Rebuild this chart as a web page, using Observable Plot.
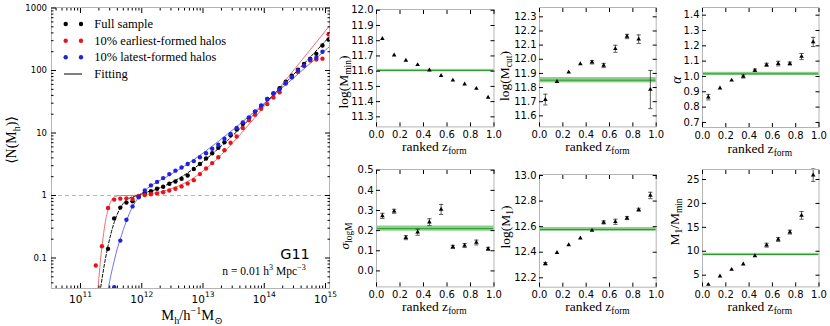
<!DOCTYPE html>
<html>
<head>
<meta charset="utf-8">
<script src="https://cdn.jsdelivr.net/npm/d3@7"></script>
<script src="https://cdn.jsdelivr.net/npm/@observablehq/plot@0.6"></script>
<style>
  html, body { margin: 0; padding: 0; background: #fff; }
  #root { position: relative; width: 830px; height: 326px; overflow: hidden; background: #fff; }
  #root svg { position: absolute; overflow: visible; }
</style>
</head>
<body>
<div id="root"></div>
<script>
// ---------------- DATA ----------------
// Left panel: halo mass bins, log10(M_h / h^-1 Msun)
const logMassBins = [11.25, 11.35, 11.45, 11.55, 11.65, 11.75, 11.85, 11.95, 12.05, 12.15,
  12.25, 12.35, 12.45, 12.55, 12.65, 12.75, 12.85, 12.95, 13.05, 13.15,
  13.25, 13.35, 13.45, 13.55, 13.65, 13.75, 13.85, 13.95, 14.05, 14.15,
  14.25, 14.35, 14.45, 14.55, 14.65, 14.75, 14.85, 14.95, 15.05];
// <N(M_h)> per bin
const nFull = [null, null, 0.14, 0.43, 0.64, 0.77, 0.81, 0.96, 1.09, 1.17,
  1.28, 1.38, 1.54, 1.68, 1.85, 2.09, 2.65, 3.2, 3.9, 4.75,
  5.8, 7.1, 9.2, 11.4, 14, 17.3, 22, 27, 35, 43,
  52, 66, 83, 103, 128, 154, 185, 251, 313];
const nEarly = [0.076, 0.154, 0.63, 0.86, 0.89, 0.90, 0.88, 0.98, 1.02, 1.05,
  1.08, 1.13, 1.20, 1.28, 1.40, 1.55, 1.76, 2.2, 2.7, 3.3,
  4.1, 5.3, 7.0, 8.8, 12.0, 16.0, 19.6, 24.4, 29, 37,
  45, 64, 78, 95, 118, 145, 150, 155, 380];
const nLate = [null, null, null, 0.034, 0.19, 0.41, 0.67, 0.94, 1.2, 1.45,
  1.65, 1.9, 2.2, 2.5, 2.8, 3.2, 3.55, 4.1, 4.75, 5.6,
  6.5, 8.1, 9.7, 12.1, 14.8, 17.8, 22, 27.5, 35, 43,
  50, 62, 78, 100, 120, 150, 160, 200, null];
// Fitted curves
const fitFullLogM = [11.33, 11.40, 11.45, 11.50, 11.55, 11.60, 11.65, 11.70, 11.80, 11.90, 12.00,
  12.20, 12.40, 12.60, 12.80, 13.00, 13.20, 13.40, 13.60, 13.80, 14.00, 14.20, 14.40, 14.60, 14.80, 15.00, 15.07];
const fitFullN = [0.034, 0.089, 0.156, 0.25, 0.37, 0.50, 0.63, 0.75, 0.91, 0.98, 1.07,
  1.22, 1.47, 1.86, 2.49, 3.49, 5.1, 7.6, 11.7, 18.4, 28.9, 45.6, 72, 115, 184, 297, 350];
const fitEarlyLogM = [11.28, 11.30, 11.33, 11.36, 11.40, 11.43, 11.46, 11.50, 11.55, 11.60, 11.70, 11.80, 12.00,
  12.20, 12.40, 12.60, 12.80, 13.00, 13.20, 13.40, 13.60, 13.80, 14.00, 14.20, 14.40, 14.60, 14.80, 15.00, 15.07];
const fitEarlyN = [0.027, 0.047, 0.10, 0.18, 0.35, 0.50, 0.65, 0.82, 0.94, 0.986, 1.0, 1.0, 1.03,
  1.09, 1.21, 1.42, 1.79, 2.45, 3.62, 5.67, 9.3, 15.6, 26.8, 46.3, 81, 141, 247, 433, 528];
const fitLateLogM = [11.45, 11.50, 11.55, 11.60, 11.65, 11.70, 11.75, 11.80, 11.85, 11.90, 12.00, 12.10, 12.20,
  12.40, 12.60, 12.80, 13.00, 13.20, 13.40, 13.60, 13.80, 14.00, 14.20, 14.40, 14.60, 14.80, 15.00, 15.07];
const fitLateN = [0.031, 0.055, 0.089, 0.14, 0.20, 0.285, 0.39, 0.52, 0.66, 0.80, 1.08, 1.32, 1.54,
  1.98, 2.58, 3.47, 4.78, 6.72, 9.6, 13.9, 20.3, 29.9, 44, 65, 97, 143, 213, 244];
const legendLabels = ["Full sample", "10% earliest-formed halos", "10% latest-formed halos", "Fitting"];
const mainXTicks = [1e11, 1e12, 1e13, 1e14, 1e15];
const mainYTicks = [0.1, 1, 10, 100, 1000];

// Right panels: ranked z_form bins
const zformBins = [0.05, 0.15, 0.25, 0.35, 0.45, 0.55, 0.65, 0.75, 0.85, 0.95];
const zformTicks = [0, 0.2, 0.4, 0.6, 0.8, 1.0];
const logMminVals = [11.814, 11.705, 11.670, 11.642, 11.607, 11.570, 11.540, 11.515, 11.486, 11.427];
const logMminErr  = [0.004, 0.003, 0.003, 0.003, 0.003, 0.003, 0.003, 0.003, 0.003, 0.004];
const logMminFit = 11.604, logMminFitErr = 0.008;
const logMminTicks = [11.3, 11.4, 11.5, 11.6, 11.7, 11.8, 11.9, 12.0];

const logMcutVals = [11.715, 11.842, 11.908, 11.967, 11.979, 11.956, 12.074, 12.161, 12.142, 11.786];
const logMcutErr  = [0.038, 0.005, 0.006, 0.008, 0.012, 0.015, 0.025, 0.015, 0.030, 0.135];
const logMcutFit = 11.852, logMcutFitErr = 0.019;
const logMcutTicks = [11.6, 11.7, 11.8, 11.9, 12.0, 12.1, 12.2, 12.3];

const alphaVals = [0.865, 0.924, 0.975, 1.000, 1.040, 1.076, 1.084, 1.084, 1.130, 1.225];
const alphaErr  = [0.018, 0.006, 0.006, 0.010, 0.008, 0.010, 0.015, 0.010, 0.020, 0.030];
const alphaFit = 1.017, alphaFitErr = 0.010;
const alphaTicks = [0.7, 0.8, 0.9, 1.0, 1.1, 1.2, 1.3, 1.4];

const sigmaVals = [0.273, 0.296, 0.165, 0.192, 0.242, 0.305, 0.119, 0.126, 0.141, 0.109];
const sigmaErr  = [0.013, 0.010, 0.010, 0.015, 0.017, 0.025, 0.008, 0.010, 0.012, 0.008];
const sigmaFit = 0.210, sigmaFitErr = 0.013;
const sigmaTicks = [0.0, 0.1, 0.2, 0.3, 0.4, 0.5];

const logM1Vals = [12.310, 12.396, 12.458, 12.510, 12.570, 12.633, 12.638, 12.667, 12.732, 12.844];
const logM1Err  = [0.010, 0.006, 0.006, 0.006, 0.006, 0.012, 0.020, 0.012, 0.012, 0.025];
const logM1Fit = 12.578, logM1FitErr = 0.015;
const logM1Ticks = [12.2, 12.4, 12.6, 12.8, 13.0];

const ratioVals = [3.05, 4.8, 6.18, 7.3, 9.04, 11.27, 12.46, 14.0, 17.5, 25.9];
const ratioErr  = [0.15, 0.15, 0.15, 0.2, 0.2, 0.4, 0.4, 0.4, 0.8, 1.3];
const ratioFit = 9.32, ratioFitErr = 0.25;
const ratioTicks = [5, 10, 15, 20, 25];

// ---------------- RENDERING ----------------
const root = document.getElementById("root");
const SANS = "DejaVu Sans, sans-serif";
const SERIF = "Liberation Serif, DejaVu Serif, serif";
const FRAME = "#b4b4b4";
const RED = "#e8141c", BLUE = "#2222dd";
const baseStyle = {fontFamily: SANS, fontSize: "10px", background: "transparent", color: "#000", overflow: "visible"};

function mount(svg, left, top) {
  svg.style.position = "absolute";
  svg.style.left = left + "px";
  svg.style.top = top + "px";
  svg.style.maxWidth = "none";
  root.appendChild(svg);
}

// ---- main panel ----
const mFrame = {left: 51, right: 329, top: 7, bottom: 288};
const mW = 340, mH = 326;
const xDom = [Math.pow(10, 10.527), Math.pow(10, 15.065)];
const yDom = [0.0325, 1020];
const xMinor = [], yMinor = [];
for (let e = 10; e <= 15; e++) for (let m = 2; m <= 9; m++) { const v = m * Math.pow(10, e); if (v > xDom[0] && v < xDom[1]) xMinor.push(v); }
for (let e = -2; e <= 3; e++) for (let m = 2; m <= 9; m++) { const v = m * Math.pow(10, e); if (v > yDom[0] && v < yDom[1]) yMinor.push(v); }

const pts = [];
[["full", nFull], ["early", nEarly], ["late", nLate]].forEach(([s, arr]) =>
  arr.forEach((n, i) => { if (n != null) pts.push({s, m: Math.pow(10, logMassBins[i]), n}); }));
const fitRows = (lm, nn) => lm.map((v, i) => ({m: Math.pow(10, v), n: nn[i]}));
const ptColor = {full: "#000", early: RED, late: BLUE};

const mainSvg = Plot.plot({
  width: mW, height: mH,
  marginLeft: mFrame.left, marginRight: mW - mFrame.right, marginTop: mFrame.top, marginBottom: mH - mFrame.bottom,
  x: {type: "log", domain: xDom},
  y: {type: "log", domain: yDom},
  style: baseStyle,
  marks: [
    Plot.ruleY([1], {stroke: "#b8b8b8", strokeDasharray: "4,3", strokeWidth: 1}),
    Plot.line(fitRows(fitEarlyLogM, fitEarlyN), {x: "m", y: "n", stroke: "#f07070", strokeWidth: 1, curve: "monotone-x", clip: true}),
    Plot.line(fitRows(fitLateLogM, fitLateN), {x: "m", y: "n", stroke: "#6f74ea", strokeWidth: 1, curve: "monotone-x", clip: true}),
    Plot.line(fitRows(fitFullLogM, fitFullN), {x: "m", y: "n", stroke: "#000", strokeWidth: 1, strokeDasharray: "3,2", curve: "monotone-x", clip: true}),
    Plot.dot(pts, {x: "m", y: "n", fill: d => ptColor[d.s], r: 2.2, clip: true}),
    Plot.frame({stroke: FRAME}),
    Plot.axisX(mainXTicks, {anchor: "bottom", tickSize: -5, fill: "none", label: null}),
    Plot.axisX(mainXTicks, {anchor: "top", tickSize: -5, fill: "none", label: null}),
    Plot.axisX(xMinor, {anchor: "bottom", tickSize: -2.5, fill: "none", label: null}),
    Plot.axisX(xMinor, {anchor: "top", tickSize: -2.5, fill: "none", label: null}),
    Plot.axisY(mainYTicks, {anchor: "left", tickSize: -5, fill: "none", label: null}),
    Plot.axisY(mainYTicks, {anchor: "right", tickSize: -5, fill: "none", label: null}),
    Plot.axisY(yMinor, {anchor: "left", tickSize: -2.5, fill: "none", label: null}),
    Plot.axisY(yMinor, {anchor: "right", tickSize: -2.5, fill: "none", label: null}),
    Plot.axisX(mainXTicks, {anchor: "bottom", tickSize: 0, tickPadding: 7, fontSize: 10.5, label: null,
      tickFormat: v => "10^" + Math.round(Math.log10(v))}),
    Plot.axisY(mainYTicks, {anchor: "left", tickSize: 0, tickPadding: 4.5, fontSize: 8.5, label: null,
      tickFormat: v => String(v)})
  ]
});
d3.select(mainSvg).selectAll("text").each(function () {
  const s = this.textContent;
  if (/^10\^/.test(s)) {
    const e = s.slice(3);
    const sel = d3.select(this);
    sel.text("");
    sel.append("tspan").text("10");
    sel.append("tspan").attr("dy", -5.5).attr("font-size", 7.5).text(e);
  }
});
mount(mainSvg, 0, 0);

// ---- small panels ----
const capSymbol = {draw(ctx, size) { const w = Math.sqrt(size); ctx.moveTo(-w, 0); ctx.lineTo(w, 0); }};
function smallPanel({frame: [L, R, T, B], yDomain, yTicks, yFmt, vals, errs, fit, fitErr}) {
  const ml = 40, mr = 8, mt = 6, mb = 24;
  const rows = zformBins.map((x, i) => ({x, v: vals[i], e: errs[i]}));
  const span = yDomain[1] - yDomain[0];
  const capRows = rows.filter(d => d.e > span * 0.01);
  const svg = Plot.plot({
    width: (R - L) + ml + mr, height: (B - T) + mt + mb,
    marginLeft: ml, marginRight: mr, marginTop: mt, marginBottom: mb,
    x: {domain: [0, 1]}, y: {domain: yDomain},
    style: baseStyle,
    marks: [
      Plot.rect([{lo: fit - fitErr, hi: fit + fitErr}], {x1: 0, x2: 1, y1: "lo", y2: "hi", fill: "#78c878", fillOpacity: 0.85}),
      Plot.ruleY([fit], {stroke: "#2e9a2e", strokeWidth: 1}),
      Plot.ruleX(rows, {x: "x", y1: d => d.v - d.e, y2: d => d.v + d.e, stroke: "#333", strokeWidth: 0.8}),
      Plot.dot(capRows, {x: "x", y: d => d.v + d.e, symbol: capSymbol, r: 1.2, stroke: "#333", strokeWidth: 0.8}),
      Plot.dot(capRows, {x: "x", y: d => d.v - d.e, symbol: capSymbol, r: 1.2, stroke: "#333", strokeWidth: 0.8}),
      Plot.dot(rows, {x: "x", y: "v", symbol: "triangle", r: 1.7, fill: "#000"}),
      Plot.frame({stroke: FRAME}),
      Plot.axisX(zformTicks, {anchor: "bottom", tickSize: -4, fill: "none", label: null}),
      Plot.axisX(zformTicks, {anchor: "top", tickSize: -4, fill: "none", label: null}),
      Plot.axisY(yTicks, {anchor: "left", tickSize: -4, fill: "none", label: null}),
      Plot.axisY(yTicks, {anchor: "right", tickSize: -4, fill: "none", label: null}),
      Plot.axisX(zformTicks, {anchor: "bottom", tickSize: 0, tickPadding: 4, fontSize: 10, label: null, tickFormat: v => v.toFixed(1)}),
      Plot.axisY(yTicks, {anchor: "left", tickSize: 0, tickPadding: 3, fontSize: 10, label: null, tickFormat: yFmt})
    ]
  });
  mount(svg, L - ml, T - mt);
}
const f1 = v => v.toFixed(1), f0 = v => v.toFixed(0);
smallPanel({frame: [375.5, 493, 9.3, 126.7], yDomain: [11.234, 12.005], yTicks: logMminTicks, yFmt: f1,
  vals: logMminVals, errs: logMminErr, fit: logMminFit, fitErr: logMminFitErr});
smallPanel({frame: [539, 655.7, 7.3, 126.7], yDomain: [11.522, 12.366], yTicks: logMcutTicks, yFmt: f1,
  vals: logMcutVals, errs: logMcutErr, fit: logMcutFit, fitErr: logMcutFitErr});
smallPanel({frame: [701.5, 818, 7.3, 127.3], yDomain: [0.667, 1.45], yTicks: alphaTicks, yFmt: f1,
  vals: alphaVals, errs: alphaErr, fit: alphaFit, fitErr: alphaFitErr});
smallPanel({frame: [375.5, 493, 169.3, 286.7], yDomain: [-0.0794, 0.5035], yTicks: sigmaTicks, yFmt: f1,
  vals: sigmaVals, errs: sigmaErr, fit: sigmaFit, fitErr: sigmaFitErr});
smallPanel({frame: [539, 655.7, 174, 286.7], yDomain: [12.1265, 13.008], yTicks: logM1Ticks, yFmt: f1,
  vals: logM1Vals, errs: logM1Err, fit: logM1Fit, fitErr: logM1FitErr});
smallPanel({frame: [701.5, 818, 169.3, 286.7], yDomain: [2.555, 27.09], yTicks: ratioTicks, yFmt: f0,
  vals: ratioVals, errs: ratioErr, fit: ratioFit, fitErr: ratioFitErr});

// ---- overlay: labels, legend, annotations ----
const ov = d3.select(root).append("svg").attr("width", 830).attr("height", 326)
  .style("position", "absolute").style("left", "0px").style("top", "0px").style("pointer-events", "none");
function rich(x, y, parts, {size = 14, anchor = "middle", rotate = 0, family = SERIF} = {}) {
  const t = ov.append("text").attr("transform", `translate(${x},${y}) rotate(${rotate})`)
    .attr("text-anchor", anchor).attr("font-family", family).attr("font-size", size).attr("fill", "#000");
  let shift = 0;
  for (const [s, k = "n", st] of parts) {
    const target = k === "sub" ? size * 0.25 : k === "sup" ? -size * 0.4 : 0;
    t.append("tspan").attr("dy", (target - shift).toFixed(2)).attr("font-size", k === "n" ? size : size * 0.7)
      .attr("font-style", st || null).text(s);
    shift = target;
  }
  return t;
}
// main axis labels
rich(16, 140, [["\u27E8N(M"], ["h", "sub"], [")\u27E9"]], {size: 14, rotate: -90});
rich(192, 320, [["M"], ["h", "sub"], ["/h"], ["\u22121", "sup"], ["M"], ["\u2299", "sub"]], {size: 14.5});
// small panel axis labels
const rankedParts = [["ranked z"], ["form", "sub"]];
rich(434.25, 151, rankedParts, {size: 13.5});
rich(597.4, 151, rankedParts, {size: 13.5});
rich(759.75, 152.5, rankedParts, {size: 13.5});
[434.25, 597.4, 759.75].forEach(cx => rich(cx, 311, rankedParts, {size: 13.5}));
rich(348, 82, [["log(M"], ["min", "sub"], [")"]], {size: 13.5, rotate: -90});
rich(509, 76, [["log(M"], ["cut", "sub"], [")"]], {size: 13.5, rotate: -90});
rich(681, 80, [["\u03B1", "n", "italic"]], {size: 14, rotate: -90});
rich(349, 236, [["\u03C3", "n", "italic"], ["logM", "sub"]], {size: 13.5, rotate: -90});
rich(510, 227, [["log(M"], ["1", "sub"], [")"]], {size: 13.5, rotate: -90});
rich(679, 222, [["M"], ["1", "sub"], ["/M"], ["min", "sub"]], {size: 13.5, rotate: -90});
// annotations in main panel
ov.append("text").attr("x", 295).attr("y", 258.5).attr("text-anchor", "middle")
  .attr("font-family", SANS).attr("font-size", 14.5).text("G11");
rich(264, 275, [["n = 0.01 h"], ["3", "sup"], [" Mpc"], ["\u22123", "sup"]], {size: 11.5});
// legend
const legRows = [24, 40.7, 57.3, 74];
const legColors = ["#000", RED, BLUE];
legColors.forEach((c, i) => {
  [65.7, 81].forEach(cx => ov.append("circle").attr("cx", cx).attr("cy", legRows[i]).attr("r", 2.2).attr("fill", c));
});
ov.append("line").attr("x1", 64).attr("x2", 82).attr("y1", legRows[3]).attr("y2", legRows[3]).attr("stroke", "#000").attr("stroke-width", 1);
legendLabels.forEach((s, i) => {
  ov.append("text").attr("x", 94.3).attr("y", legRows[i] + 4).attr("font-family", SERIF).attr("font-size", 12.5).text(s);
});
</script>
</body>
</html>
